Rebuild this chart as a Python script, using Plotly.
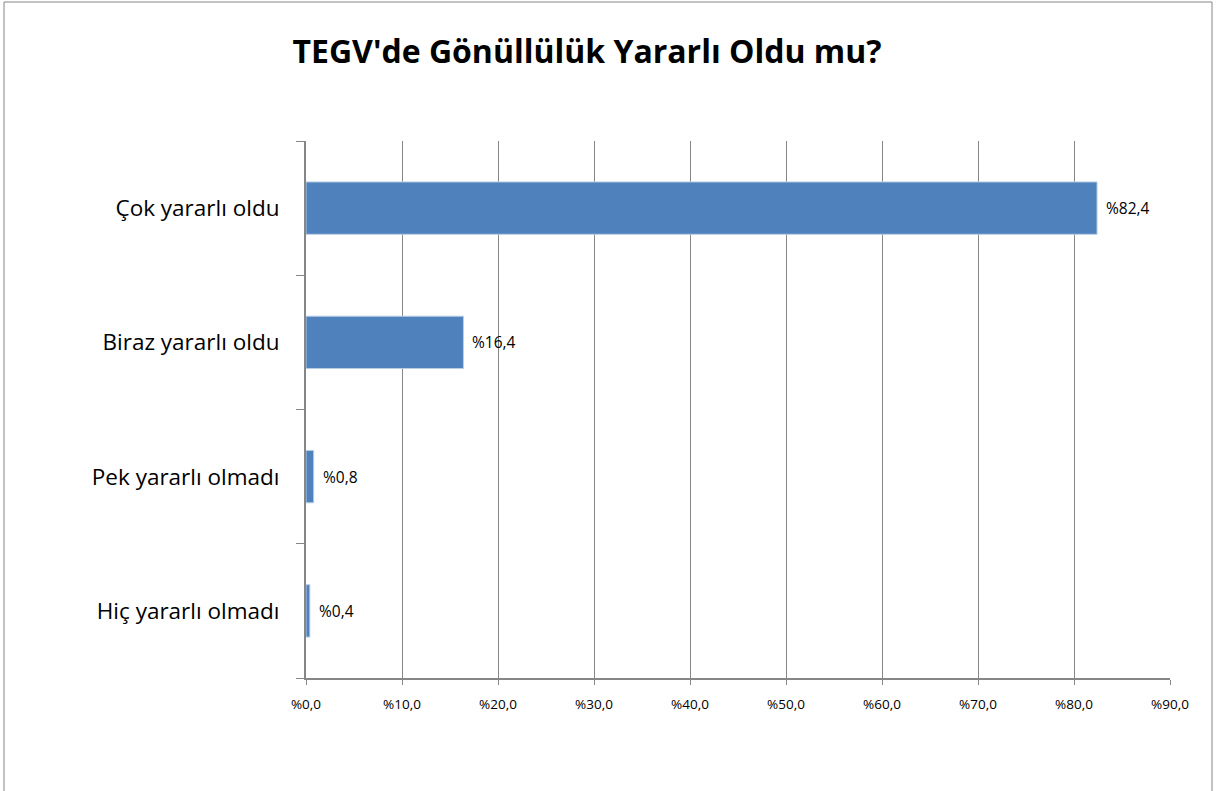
import plotly.graph_objects as go

categories = ["Hiç yararlı olmadı", "Pek yararlı olmadı", "Biraz yararlı oldu", "Çok yararlı oldu"]
values = [0.4, 0.8, 16.4, 82.4]
value_labels = ["%0,4", "%0,8", "%16,4", "%82,4"]
tick_values = [0, 10, 20, 30, 40, 50, 60, 70, 80, 90]
tick_labels = ["%0,0", "%10,0", "%20,0", "%30,0", "%40,0", "%50,0", "%60,0", "%70,0", "%80,0", "%90,0"]
title_text = "TEGV'de Gönüllülük Yararlı Oldu mu?"

FONT = "'Open Sans', sans-serif"
GRID = "#868686"
W, H = 1218, 791
L, R, T, B = 306, 48, 141, 113

fig = go.Figure()
fig.add_trace(go.Bar(
    y=categories,
    x=values,
    orientation="h",
    width=0.39,
    marker=dict(color="#4F81BD", line=dict(color="#B9CDE5", width=1)),
    hoverinfo="skip",
))

for v, c, t in zip(values, categories, value_labels):
    fig.add_annotation(x=v, y=c, xref="x", yref="y", text=t, showarrow=False,
                       xanchor="left", yanchor="middle", xshift=7,
                       font=dict(family=FONT, size=15.5, color="#000000"))

pw = W - L - R
ph = H - T - B
fig.update_layout(
    width=W, height=H,
    margin=dict(l=L, r=R, t=T, b=B),
    paper_bgcolor="white", plot_bgcolor="white",
    showlegend=False,
    title=dict(text="<b>" + title_text + "</b>", x=587 / W, xanchor="center",
               y=1 - 52 / H, yanchor="middle",
               font=dict(family=FONT, size=32, color="#000000")),
    xaxis=dict(
        range=[0, 90], tickvals=tick_values, ticktext=tick_labels,
        showgrid=True, gridcolor=GRID, gridwidth=1,
        showline=True, linecolor=GRID, linewidth=2,
        ticks="outside", ticklen=5, tickcolor=GRID,
        tickfont=dict(family=FONT, size=13.5, color="#000000"),
        ticklabelstandoff=8,
        zeroline=False, fixedrange=True,
    ),
    yaxis=dict(
        categoryorder="array", categoryarray=categories,
        showline=True, linecolor=GRID, linewidth=2,
        ticks="outside", tickson="boundaries", ticklen=8, tickcolor=GRID,
        tickfont=dict(family=FONT, size=22.5, color="#000000"),
        ticklabelstandoff=20,
        showgrid=False, zeroline=False, fixedrange=True,
    ),
    shapes=[dict(type="rect", xref="paper", yref="paper",
                 x0=(4 - L) / pw, x1=(1212 - L) / pw,
                 y0=(T + ph - 810) / ph, y1=(T + ph - 2) / ph,
                 line=dict(color="#868686", width=1), fillcolor="rgba(0,0,0,0)", layer="below")],
)

fig.write_html("out.html", config={"displayModeBar": False},
               post_script="document.body.style.margin='0';document.body.style.overflow='hidden';")
